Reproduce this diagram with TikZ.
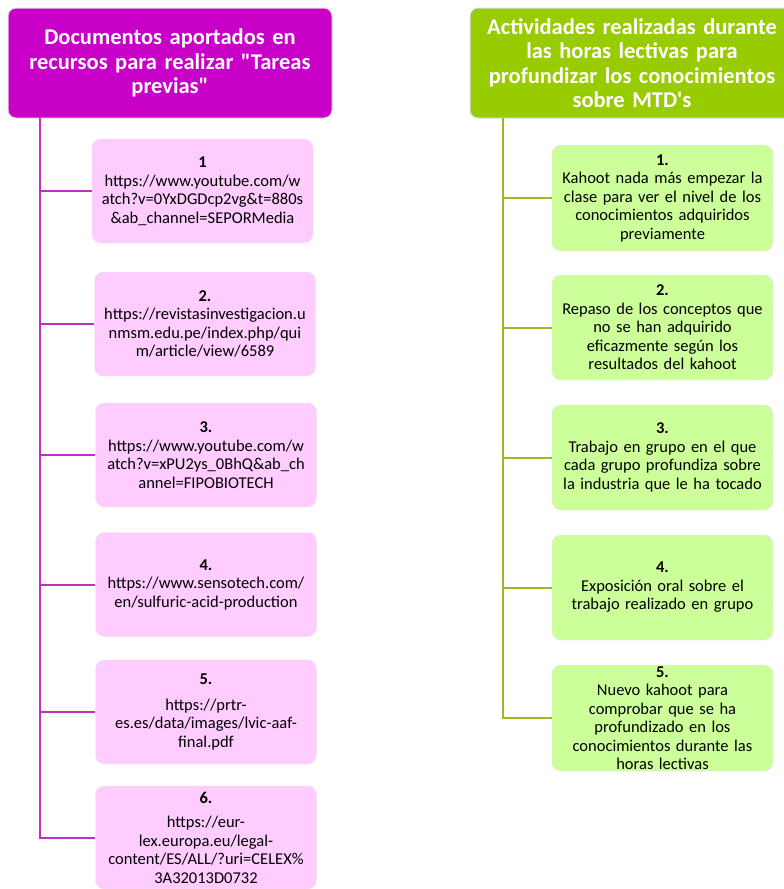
\documentclass[tikz,border=0pt]{standalone}
\usepackage{fontspec}
\setmainfont{Carlito}
\newcommand{\plaindq}{\XeTeXglyph\XeTeXcharglyph"22\relax}
\newcommand{\plainsq}{\XeTeXglyph\XeTeXcharglyph"27\relax}
\definecolor{docHeadColor}{HTML}{C800C8}
\definecolor{docBoxColor}{HTML}{FFCCFF}
\definecolor{docLineColor}{HTML}{C030C0}
\definecolor{actHeadColor}{HTML}{99CC00}
\definecolor{actBoxColor}{HTML}{CCFF99}
\definecolor{actLineColor}{HTML}{99BB22}
\begin{document}
\begin{tikzpicture}[
        x=1pt, y=-1pt,
        head/.style={rectangle, rounded corners=8pt, draw=gray!25, line width=1pt, text=white, minimum width=324pt, minimum height=110pt, text width=318pt, align=center, inner sep=2pt, font=\fontsize{22.5}{24.5}\selectfont\bfseries},
        docHead/.style={head, fill=docHeadColor},
        actHead/.style={head, fill=actHeadColor},
        item/.style={rectangle, rounded corners=9pt, draw=gray!20, minimum width=221pt, minimum height=104pt, text width=221pt, align=center, inner sep=0pt, font=\fontsize{16.5}{18.5}\selectfont},
        docItem/.style={item, fill=docBoxColor},
        actItem/.style={item, fill=actBoxColor},
        docLine/.style={draw=docLineColor, line width=2pt},
        actLine/.style={draw=actLineColor, line width=2pt}
    ]
    \useasboundingbox (0,0) rectangle (784,889);
    \clip (0,0) rectangle (784,889);
    % left column
    \node[docHead] (docHead) at (170,63) {Documentos aportados en\\recursos para realizar \plaindq Tareas\\previas\plaindq};
    \node[docItem] (doc1) at (202.5,191) {\textbf{1}\\https://www.youtube.com/w\\atch?v=0YxDGDcp2vg\&t=880s\\\&ab\_channel=SEPORMedia};
    \node[docItem] (doc2) at (205,324) {\textbf{2.}\\https://revistasinvestigacion.u\\nmsm.edu.pe/index.php/qui\\m/article/view/6589};
    \node[docItem] (doc3) at (206,455) {\textbf{3.}\\https://www.youtube.com/w\\atch?v=xPU2ys\_0BhQ\&ab\_ch\\annel=FIPOBIOTECH};
    \node[docItem] (doc4) at (206,584.5) {\textbf{4.}\\https://www.sensotech.com/\\en/sulfuric-acid-production};
    \node[docItem] (doc5) at (206,712) {\textbf{5.}\\[7pt]https://prtr-\\es.es/data/images/lvic-aaf-\\final.pdf};
    \node[docItem, minimum height=103pt] (doc6) at (206,837.5) {\textbf{6.}\\[6pt]https://eur-\\lex.europa.eu/legal-\\content/ES/ALL/?uri=CELEX\%\\3A32013D0732};
    % right column
    \node[actHead] (actHead) at (632,63) {Actividades realizadas durante\\las horas lectivas para\\profundizar los conocimientos\\sobre MTD\plainsq s};
    \node[actItem, minimum height=106pt] (act1) at (662.5,198) {\textbf{1.}\\Kahoot nada más empezar la\\clase para ver el nivel de los\\conocimientos adquiridos\\previamente};
    \node[actItem, minimum height=105pt] (act2) at (662.5,327.5) {\textbf{2.}\\Repaso de los conceptos que\\no se han adquirido\\eficazmente según los\\resultados del kahoot};
    \node[actItem, minimum height=105pt] (act3) at (662.5,457.5) {\textbf{3.}\\Trabajo en grupo en el que\\cada grupo profundiza sobre\\la industria que le ha tocado};
    \node[actItem, minimum height=105pt] (act4) at (662.5,587.5) {\textbf{4.}\\Exposición oral sobre el\\trabajo realizado en grupo};
    \node[actItem, minimum height=106pt] (act5) at (662.5,718) {\textbf{5.}\\Nuevo kahoot para\\comprobar que se ha\\profundizado en los\\conocimientos durante las\\horas lectivas};
    % connectors
    \coordinate (docRoot) at (40,118);
    \coordinate (actRoot) at (503,118);
    \draw[docLine] (docRoot) |- (doc6.west);
    \foreach \i in {1,...,5}
        \draw[docLine] (docRoot |- doc\i.west) -- (doc\i.west);
    \draw[actLine] (actRoot) |- (act5.west);
    \foreach \i in {1,...,4}
        \draw[actLine] (actRoot |- act\i.west) -- (act\i.west);
\end{tikzpicture}
\end{document}
